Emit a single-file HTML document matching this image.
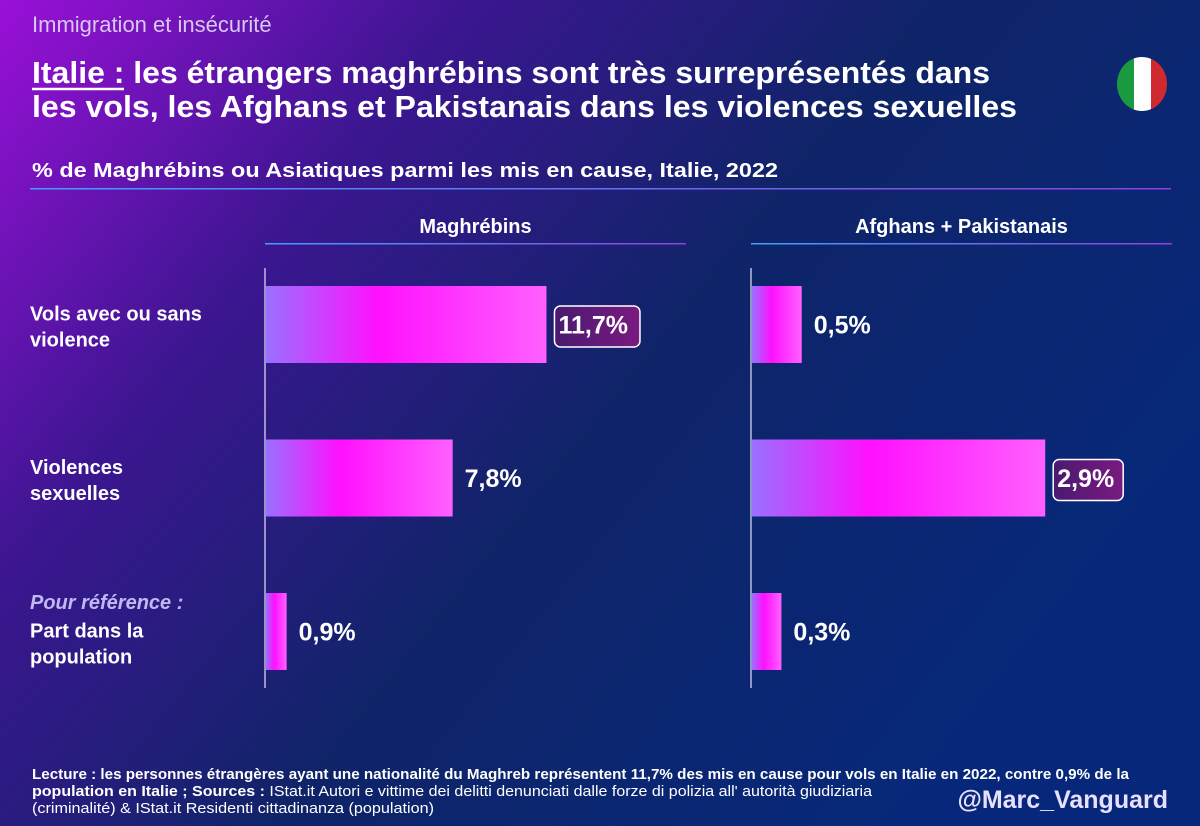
<!DOCTYPE html>
<html><head><meta charset="utf-8"><style>
html,body{margin:0;padding:0;width:1200px;height:826px;overflow:hidden}
svg{display:block}
text{font-family:"Liberation Sans","DejaVu Sans",sans-serif}
</style></head><body>
<svg id="c" width="1200" height="826" viewBox="0 0 1200 826">
<defs>
<linearGradient id="bg" x1="0" y1="0" x2="1" y2="0.55">
<stop offset="0" stop-color="#9a10d8"/><stop offset="0.3" stop-color="#3b1690"/><stop offset="0.6" stop-color="#0f2468"/><stop offset="1" stop-color="#07287a"/>
</linearGradient>
<linearGradient id="bar" x1="0" y1="0" x2="1" y2="0">
<stop offset="0" stop-color="#9a70ff"/><stop offset="0.4" stop-color="#ff10ff"/><stop offset="1" stop-color="#ff60ff"/>
</linearGradient>
<linearGradient id="rule" x1="0" y1="0" x2="1" y2="0">
<stop offset="0" stop-color="#40a0ff"/><stop offset="1" stop-color="#9040e0"/>
</linearGradient>
<linearGradient id="box" x1="0" y1="0" x2="1" y2="0">
<stop offset="0" stop-color="#4a1a70"/><stop offset="1" stop-color="#7a1a80"/>
</linearGradient>
<clipPath id="flagclip"><ellipse cx="1142" cy="84" rx="25" ry="27"/></clipPath>
</defs>
<rect width="1200" height="826" fill="url(#bg)"/>
<text x="32" y="32" font-size="22" fill="#d8c8f0">Immigration et insécurité</text>
<g font-size="31" font-weight="bold" fill="#fff">
<text x="32" y="83" textLength="958" lengthAdjust="spacingAndGlyphs">Italie : les étrangers maghrébins sont très surreprésentés dans</text>
<line x1="32" y1="89" x2="124" y2="89" stroke="#fff" stroke-width="2.5"/>
<text x="32" y="117" textLength="985" lengthAdjust="spacingAndGlyphs">les vols, les Afghans et Pakistanais dans les violences sexuelles</text>
</g>
<g clip-path="url(#flagclip)">
<rect x="1115" y="55" width="19" height="60" fill="#1a9a40"/><rect x="1134" y="55" width="17" height="60" fill="#fff"/><rect x="1151" y="55" width="20" height="60" fill="#d02a30"/>
</g>
<text x="32" y="177" font-size="20" font-weight="bold" fill="#fff" textLength="746" lengthAdjust="spacingAndGlyphs">% de Maghrébins ou Asiatiques parmi les mis en cause, Italie, 2022</text>
<rect x="30" y="188" width="1141" height="1.5" fill="url(#rule)"/>
<g id="plot"></g>
<g font-size="14.5" fill="#fff">
<text x="32" y="779" font-weight="bold" textLength="1097" lengthAdjust="spacingAndGlyphs">Lecture : les personnes étrangères ayant une nationalité du Maghreb représentent 11,7% des mis en cause pour vols en Italie en 2022, contre 0,9% de la</text>
<text x="32" y="796" textLength="840" lengthAdjust="spacingAndGlyphs"><tspan font-weight="bold">population en Italie ; Sources :</tspan> IStat.it Autori e vittime dei delitti denunciati dalle forze di polizia all' autorità giudiziaria</text>
<text x="32" y="813" textLength="402" lengthAdjust="spacingAndGlyphs">(criminalité) &amp; IStat.it Residenti cittadinanza (population)</text>
</g>
<text x="1168" y="808" text-anchor="end" font-size="25" font-weight="bold" fill="#e8e0ff">@Marc_Vanguard</text>
</svg>
<script>
const categories = ["Vols avec ou sans violence", "Violences sexuelles", "Part dans la population"];
const panels = ["Maghrébins", "Afghans + Pakistanais"];
const maghrebValues = [11.7, 7.8, 0.9];
const afpakValues = [0.5, 2.9, 0.3];
const seriesValues = [maghrebValues, afpakValues];
const valueLabels = [["11,7%", "7,8%", "0,9%"], ["0,5%", "2,9%", "0,3%"]];
const highlighted = [0, 1];

const NS = "http://www.w3.org/2000/svg";
const plot = document.getElementById("plot");
function mk(tag, attrs, parent) {
  const e = document.createElementNS(NS, tag);
  for (const k in attrs) e.setAttribute(k, attrs[k]);
  parent.appendChild(e);
  return e;
}
const panelX = [265, 751];
const panelW = 421;
const xMax = [17.5, 4.15];
function xScale(p, v) { return panelX[p] + v / xMax[p] * panelW; }
function yScale(i) { return 286 + i * 153.5; }
const barH = 77;

const labelLines = [["Vols avec ou sans", "violence"], ["Violences", "sexuelles"], ["Part dans la", "population"]];
categories.forEach((c, i) => {
  const t = mk("text", {x: 30, "font-size": 20, "font-weight": "bold", fill: "#fff"}, plot);
  
  
  const base = yScale(i) + barH / 2 - 4 + (i === 2 ? 10 : 0);
  labelLines[i].forEach((l, j) => {
    const s = mk("tspan", {x: 30, y: base + j * 26}, t);
    s.textContent = l;
  });
});
const ref = mk("text", {x: 30, y: yScale(2) + 16, "font-size": 20, "font-weight": "bold", "font-style": "italic", fill: "#c0b8f0"}, plot);


ref.textContent = "Pour référence :";

panels.forEach((p, pi) => {
  const g = mk("g", {}, plot);
  
  
  const h = mk("text", {x: panelX[pi] + panelW / 2, y: 233, "text-anchor": "middle", "font-size": 20, "font-weight": "bold", fill: "#fff"}, g);
  
  
  h.textContent = p;
  const r = mk("rect", {x: panelX[pi], y: 243, width: panelW, height: 1.5, fill: "url(#rule)"}, g);
  
  
  const ax = mk("line", {x1: panelX[pi], x2: panelX[pi], y1: 268, y2: 688, stroke: "#e8e0ff", "stroke-width": 1.2}, g);
  
  
  seriesValues[pi].forEach((v, i) => {
    const x0 = panelX[pi], x1 = xScale(pi, v), y = yScale(i);
    const b = mk("rect", {x: x0 + 1, y: y, width: Math.max(1, x1 - x0 - 1), height: barH, fill: "url(#bar)"}, g);
    
    
    const ty = y + barH / 2 + 9;
    if (highlighted[pi] === i) {
      const w = valueLabels[pi][i].length * 15.5 + 8;
      const bx = mk("rect", {x: x1 + 8, y: y + 20, width: w, height: 41, rx: 6, fill: "url(#box)", stroke: "#fff", "stroke-width": 1.5}, g);
      
      
    }
    const t = mk("text", {x: x1 + 12, y: ty, "font-size": 25, "font-weight": "bold", fill: "#fff"}, g);
    
    
    t.textContent = valueLabels[pi][i];
  });
});
</script>
</body></html>
